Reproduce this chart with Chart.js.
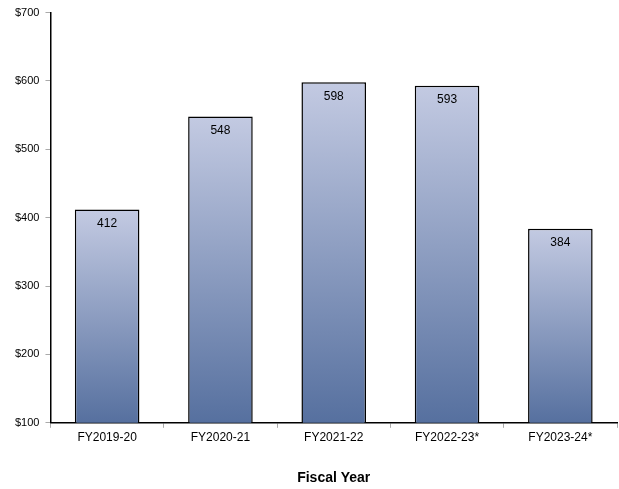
<!DOCTYPE html>
<html lang="en">

<head>
    <meta charset="UTF-8">
    <title>Fiscal Year Chart</title>
    <script src="https://cdn.jsdelivr.net/npm/chart.js"></script>
    <style>
        body {
            margin: 0;
            padding: 0;
            background: #fff;
        }

        .box {
            width: 619px;
            height: 489px;
        }
    </style>
</head>

<body>
    <div class="box">
        <canvas id="myChart"></canvas>
    </div>

    <script>
        const years = ['FY2019-20', 'FY2020-21', 'FY2021-22', 'FY2022-23*', 'FY2023-24*'];
        const amounts = [412, 548, 598, 593, 384];
        const yTicks = [100, 200, 300, 400, 500, 600, 700];

        const topColor = '#c3cae2';
        const bottomColor = '#56709f';

        // each bar gets its own gradient, light at top, darker at base
        function barFill(context) {
            const chart = context.chart;
            const area = chart.chartArea;
            if (!area || context.dataIndex === undefined) return bottomColor;
            const yScale = chart.scales.y;
            const top = yScale.getPixelForValue(amounts[context.dataIndex]);
            const base = yScale.getPixelForValue(yScale.min);
            const g = chart.ctx.createLinearGradient(0, top, 0, base);
            g.addColorStop(0, topColor);
            g.addColorStop(1, bottomColor);
            return g;
        }

        const valueLabels = {
            id: 'valueLabels',
            afterDatasetsDraw(chart) {
                const ctx = chart.ctx;
                const meta = chart.getDatasetMeta(0);
                ctx.save();
                ctx.font = '12px Arial, "Liberation Sans", sans-serif';
                ctx.fillStyle = '#000';
                ctx.textAlign = 'center';
                ctx.textBaseline = 'middle';
                meta.data.forEach((bar, i) => {
                    ctx.fillText(String(amounts[i]), bar.x, bar.y + 14);
                });
                ctx.restore();
            }
        };

        const ctx = document.getElementById('myChart').getContext('2d');

        new Chart(ctx, {
            type: 'bar',
            data: {
                labels: years,
                datasets: [{
                    data: amounts,
                    backgroundColor: barFill,
                    borderColor: '#000',
                    borderWidth: 1.5,
                    borderSkipped: false,
                    categoryPercentage: 1,
                    barPercentage: 0.57
                }]
            },
            options: {
                responsive: true,
                maintainAspectRatio: false,
                animation: false,
                layout: {
                    padding: { top: 7, right: 2, left: 9, bottom: 2 }
                },
                scales: {
                    x: {
                        grid: {
                            drawOnChartArea: false,
                            drawTicks: true,
                            tickLength: 5,
                            color: '#aaa'
                        },
                        border: { color: '#000', width: 1.5 },
                        ticks: {
                            color: '#000',
                            padding: 3,
                            font: { family: 'Arial, "Liberation Sans", sans-serif', size: 12 }
                        },
                        title: {
                            display: true,
                            text: 'Fiscal Year',
                            color: '#000',
                            padding: { top: 22, bottom: 0 },
                            font: { family: 'Arial, "Liberation Sans", sans-serif', size: 14, weight: 'bold' }
                        }
                    },
                    y: {
                        min: 100,
                        max: 700,
                        afterBuildTicks: axis => {
                            axis.ticks = yTicks.map(v => ({ value: v }));
                        },
                        grid: {
                            drawOnChartArea: false,
                            drawTicks: true,
                            tickLength: 5,
                            color: '#aaa'
                        },
                        border: { color: '#000', width: 1.5 },
                        ticks: {
                            color: '#000',
                            padding: 6,
                            font: { family: 'Arial, "Liberation Sans", sans-serif', size: 11 },
                            callback: value => '$' + value
                        }
                    }
                },
                plugins: {
                    legend: { display: false },
                    tooltip: { enabled: false }
                }
            },
            plugins: [valueLabels]
        });
    </script>

</body>

</html>
